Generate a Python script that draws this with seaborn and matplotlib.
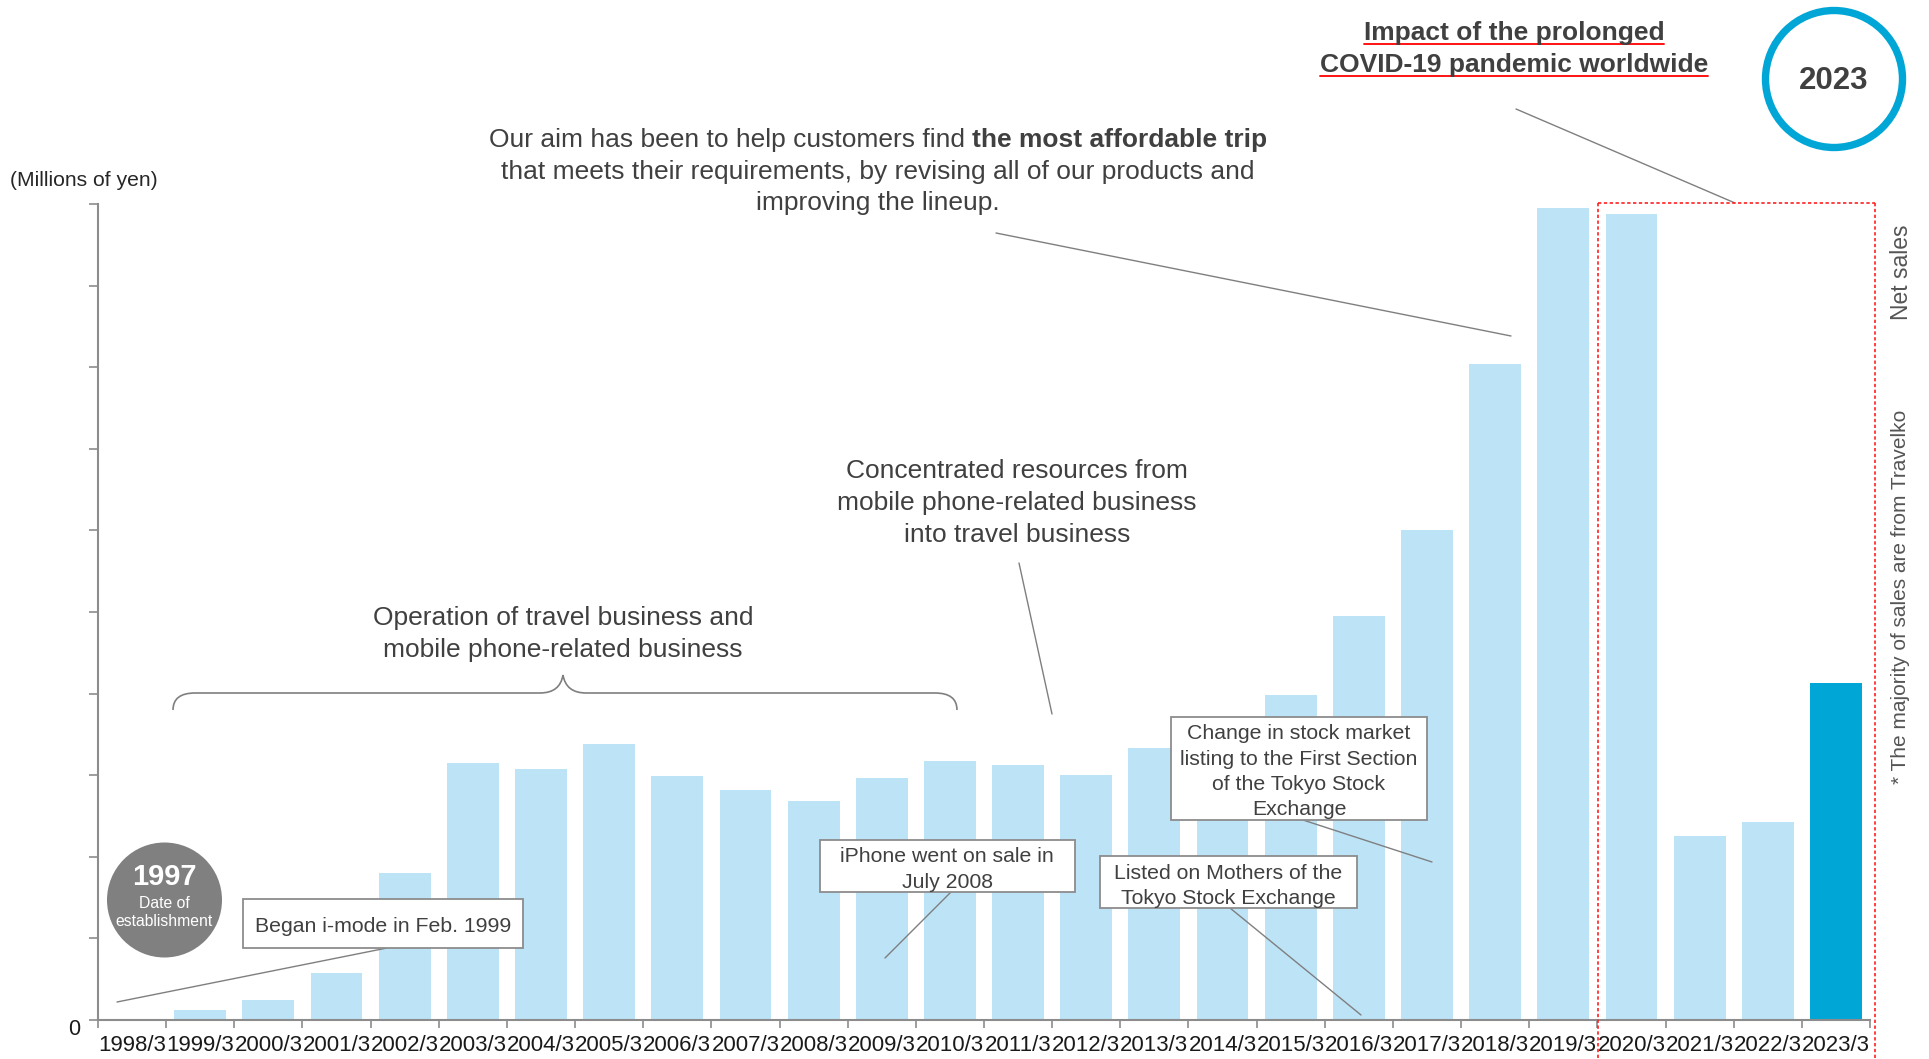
import matplotlib
matplotlib.use("Agg")
import matplotlib.pyplot as plt
import matplotlib.transforms as mtransforms
from matplotlib.patches import Rectangle, Circle, PathPatch
from matplotlib.path import Path
from matplotlib.lines import Line2D
import seaborn as sns
import pandas as pd
import numpy as np

# ---- data -------------------------------------------------------------
fiscal_years = [
    "1998/3", "1999/3", "2000/3", "2001/3", "2002/3", "2003/3", "2004/3",
    "2005/3", "2006/3", "2007/3", "2008/3", "2009/3", "2010/3", "2011/3",
    "2012/3", "2013/3", "2014/3", "2015/3", "2016/3", "2017/3", "2018/3",
    "2019/3", "2020/3", "2021/3", "2022/3", "2023/3",
]
net_sales = [
    0, 12, 24, 57, 180, 315, 308, 338, 299, 282, 268, 296, 317,
    312, 300, 333, 355, 398, 495, 600, 804, 995, 988, 226, 243, 413,
]
highlight_year = "2023/3"
y_max = 1000
y_step = 100

# ---- styling ----------------------------------------------------------
LIGHT = "#BDE3F7"
DARK = "#00A6D6"
TEXT = "#404040"
AXIS = "#8c8c8c"
LEADER = "#7f7f7f"

W, H = 1929, 1059
sns.set_style("white")
plt.rcParams["font.family"] = ["Liberation Sans", "DejaVu Sans"]

fig = plt.figure(figsize=(W / 100, H / 100), dpi=100)
ax = fig.add_axes([98 / W, 1 - 1020 / H, (1870 - 98) / W, (1020 - 204) / H])

df = pd.DataFrame({"year": fiscal_years, "sales": net_sales})
palette = {y: (DARK if y == highlight_year else LIGHT) for y in fiscal_years}
sns.barplot(data=df, x="year", y="sales", hue="year", palette=palette,
            legend=False, width=0.76, saturation=1, errorbar=None,
            linewidth=0, ax=ax)

ax.set_xlim(-0.5, len(fiscal_years) - 0.5)
ax.set_ylim(0, y_max)
ax.set_xlabel("")
ax.set_ylabel("")
for s in ["top", "right"]:
    ax.spines[s].set_visible(False)
for s in ["left", "bottom"]:
    ax.spines[s].set_color(AXIS)
    ax.spines[s].set_linewidth(1.5)

yt = np.arange(0, y_max + 1, y_step)
ax.set_yticks(yt)
ax.set_yticklabels(["0"] + [""] * (len(yt) - 1))
ax.tick_params(axis="y", left=True, direction="out", length=6.5, width=1.2,
               color=AXIS, labelsize=15.5, labelcolor="#1a1a1a", pad=6)
for lab in ax.get_yticklabels():
    lab.set_transform(lab.get_transform() + mtransforms.ScaledTranslation(0, -0.07, fig.dpi_scale_trans))

ax.set_xticks(range(len(fiscal_years)))
ax.set_xticklabels(fiscal_years)
ax.tick_params(axis="x", which="major", bottom=True, length=0, pad=11,
               labelsize=16, labelcolor="#1a1a1a")
ax.set_xticks(np.arange(-0.5, len(fiscal_years), 1), minor=True)
ax.tick_params(axis="x", which="minor", bottom=True, direction="out",
               length=6, width=1.2, color=AXIS)


# ---- figure-level helpers (pixel coordinates, origin top-left) -------
def fx(x):
    return x / W


def fy(y):
    return 1 - y / H


def text_lines(x, centers, lines, size, weight="normal", color=TEXT, ha="center"):
    em = size * 100 / 72
    for yc, s in zip(centers, lines):
        fig.text(fx(x), fy(yc + 0.36 * em), s, fontsize=size, fontweight=weight,
                 color=color, ha=ha, va="baseline", zorder=5)


def leader(x0, y0, x1, y1, color=LEADER, lw=1.0):
    fig.add_artist(Line2D([fx(x0), fx(x1)], [fy(y0), fy(y1)],
                          transform=fig.transFigure, color=color, lw=lw, zorder=2))


def box(x0, y0, x1, y1):
    fig.add_artist(Rectangle((fx(x0), fy(y1)), (x1 - x0) / W, (y1 - y0) / H,
                             transform=fig.transFigure, fc="white", ec=AXIS,
                             lw=1.3, zorder=4))


def circle(x, y, r, **kw):
    fig.add_artist(Circle((x / 100, (H - y) / 100), r / 100,
                          transform=fig.dpi_scale_trans, **kw))


# ---- annotations ------------------------------------------------------
fig.text(fx(10), fy(178 + 0.36 * 15.2 * 100 / 72), "(Millions of yen)",
         fontsize=15.2, color="#262626", ha="left", va="baseline")

# mission statement with a bold phrase
renderer = fig.canvas.get_renderer()
size_main = 19
t1 = fig.text(0, 0, "Our aim has been to help customers find", fontsize=size_main,
              color=TEXT, ha="left", va="baseline")
t2 = fig.text(0, 0, "the most affordable trip", fontsize=size_main,
              fontweight="bold", color=TEXT, ha="left", va="baseline")
w1 = t1.get_window_extent(renderer).width
w2 = t2.get_window_extent(renderer).width
probe_a = fig.text(0, 0, "x x", fontsize=size_main)
probe_b = fig.text(0, 0, "xx", fontsize=size_main)
gap = probe_a.get_window_extent(renderer).width - probe_b.get_window_extent(renderer).width
probe_a.remove()
probe_b.remove()
start = 878 - (w1 + gap + w2) / 2
base1 = 137 + 0.36 * size_main * 100 / 72
t1.set_position((fx(start), fy(base1)))
t2.set_position((fx(start + w1 + gap), fy(base1)))
text_lines(878, [169, 200],
           ["that meets their requirements, by revising all of our products and",
            "improving the lineup."], size_main)
leader(996, 233, 1511, 336)

# COVID-19 heading, bold and underlined
for base, s in [(40, "Impact of the prolonged"), (72, "COVID-19 pandemic worldwide")]:
    t = fig.text(fx(1514), fy(base), s, fontsize=19, fontweight="bold",
                 color=TEXT, ha="center", va="baseline")
    w = t.get_window_extent(renderer).width
    leader(1514 - w / 2, base + 4, 1514 + w / 2, base + 4, color="#ff0000", lw=1.3)
leader(1516, 109, 1735, 203)

# 2023 ring
circle(1834, 79, 68.5, fill=False, ec=DARK, lw=5.3, zorder=3)
fig.text(fx(1834), fy(81), "2023", fontsize=22.5, fontweight="bold",
         color=TEXT, ha="center", va="center")

# dotted frame around the pandemic years
dots = dict(color="#ff2020", lw=1.2, linestyle=(0, (2, 1.5)))
for (x0, y0, x1, y1) in [(1598, 203, 1875, 203), (1598, 203, 1598, 1059),
                         (1875, 203, 1875, 1059)]:
    fig.add_artist(Line2D([fx(x0), fx(x1)], [fy(y0), fy(y1)],
                          transform=fig.transFigure, zorder=3, **dots))

fig.text(fx(1901), fy(272), "Net sales", fontsize=16.5, color="#555555",
         rotation=90, ha="center", va="center")
fig.text(fx(1901), fy(597), "* The majority of sales are from Travelko",
         fontsize=15, color="#555555", rotation=90, ha="center", va="center")

# concentrated resources
text_lines(1017, [469, 501, 533],
           ["Concentrated resources from", "mobile phone-related business",
            "into travel business"], size_main)
leader(1019, 563, 1052, 714)

# operation period with brace
text_lines(563, [616, 648],
           ["Operation of travel business and", "mobile phone-related business"],
           size_main)
brace = [
    (173, 710, Path.MOVETO), (173, 693, Path.CURVE3), (195, 693, Path.CURVE3),
    (540, 693, Path.LINETO), (560, 693, Path.CURVE3), (563, 675, Path.CURVE3),
    (566, 693, Path.CURVE3), (586, 693, Path.CURVE3),
    (935, 693, Path.LINETO), (957, 693, Path.CURVE3), (957, 710, Path.CURVE3),
]
bpath = Path([(fx(x), fy(y)) for x, y, _ in brace], [c for _, _, c in brace])
fig.add_artist(PathPatch(bpath, transform=fig.transFigure, fill=False,
                         ec=LEADER, lw=1.2, zorder=2))

# establishment badge
circle(164.5, 900, 57.5, fc="#808080", ec="none", zorder=3)
fig.text(fx(164.5), fy(877), "1997", fontsize=21, fontweight="bold",
         color="white", ha="center", va="center", zorder=5)
fig.text(fx(164.5), fy(904), "Date of", fontsize=11.3, color="white",
         ha="center", va="center", zorder=5)
fig.text(fx(164.5), fy(922), "establishment", fontsize=11.3, color="white",
         ha="center", va="center", zorder=5)

# milestone boxes
size_box = 15.3
leader(117, 1002, 387, 948)
box(243, 899, 523, 948)
text_lines(383, [924], ["Began i-mode in Feb. 1999"], size_box)

leader(951, 892, 885, 958)
box(820, 840, 1075, 892)
text_lines(947, [854, 880], ["iPhone went on sale in", "July 2008"], size_box)

leader(1230, 908, 1361, 1015)
box(1100, 856, 1357, 908)
text_lines(1228, [871, 896], ["Listed on Mothers of the", "Tokyo Stock Exchange"], size_box)

leader(1303, 820, 1432, 862)
box(1171, 717, 1427, 820)
text_lines(1299, [731, 757, 782, 807],
           ["Change in stock market", "listing to the First Section",
            "of the Tokyo Stock", "Exchange"], size_box)

fig.savefig("out.png", dpi=100, facecolor="white")
